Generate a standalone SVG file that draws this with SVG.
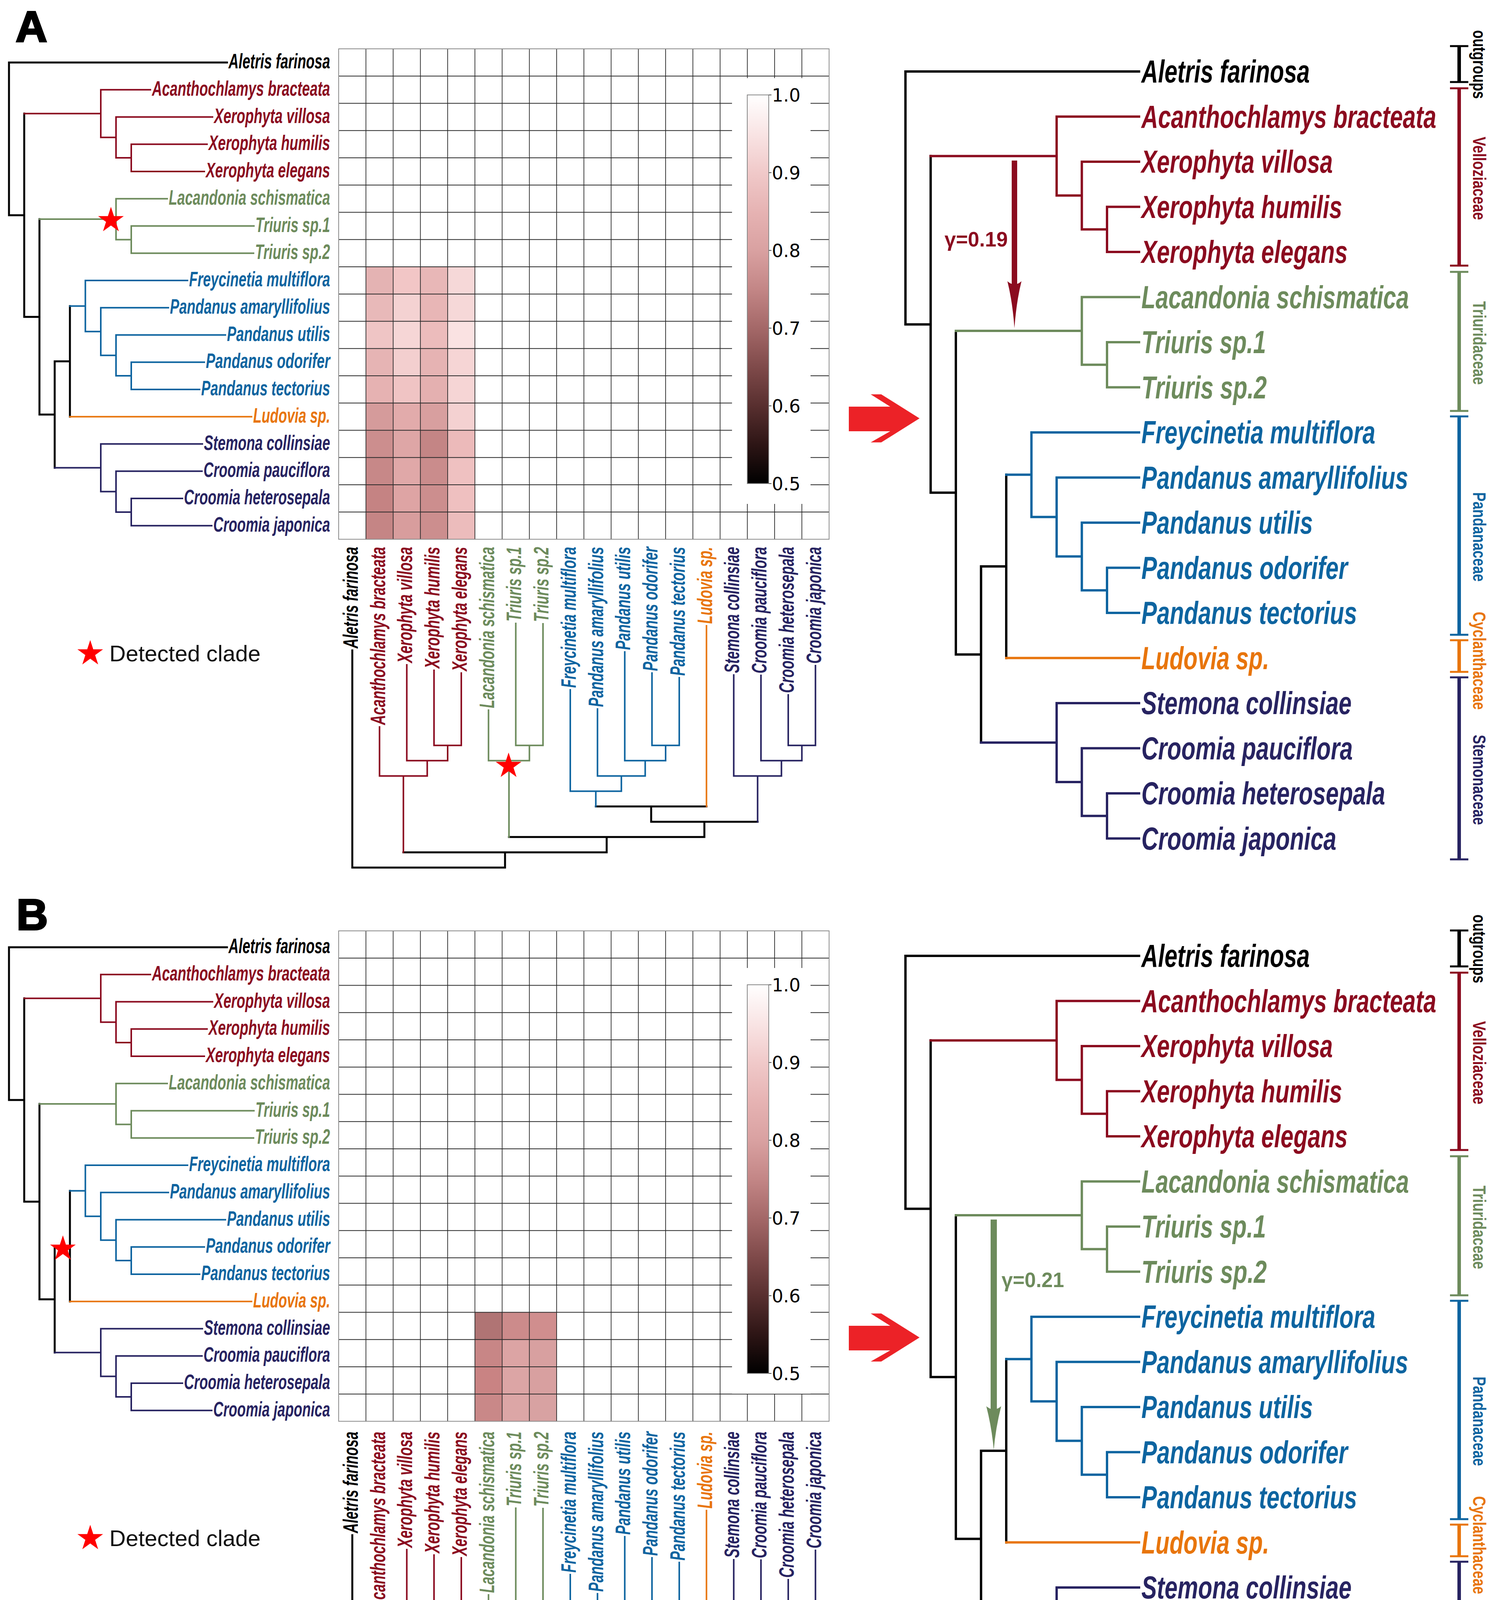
<svg xmlns="http://www.w3.org/2000/svg" width="3817" height="4510" viewBox="0 0 3817 4510">
<defs>
<style>
.t{font-family:'Liberation Sans',Arial,sans-serif;font-weight:bold;font-style:italic}
.ls{font-size:53px;text-anchor:end}
.rs{font-size:82px}
.fm{font-family:'Liberation Sans',Arial,sans-serif;font-weight:bold;font-size:47px}
.cbt{font-family:'DejaVu Sans',sans-serif;font-size:46px;fill:#000}
.pl{font-family:'Liberation Sans',Arial,sans-serif;font-weight:bold;font-size:112px;fill:#000;stroke:#000;stroke-width:4}
.leg{font-family:'Liberation Sans',Arial,sans-serif;font-size:58px;fill:#111}
.gm{font-family:'Liberation Sans',Arial,sans-serif;font-weight:bold;font-size:54px}
.fk{fill:#000}.fr{fill:#8b0b1f}.fg{fill:#6d8b5c}.fb{fill:#0d64a0}.fo{fill:#e8750c}.fn{fill:#272361}
.e{fill:none;stroke-linecap:square;stroke-linejoin:miter}
.k{stroke:#000}.r{stroke:#8b0b1f}.g{stroke:#6d8b5c}.b{stroke:#0d64a0}.o{stroke:#e8750c}.n{stroke:#272361}
.w4{stroke-width:4}.w5{stroke-width:5}.w6{stroke-width:6}
.grid{fill:none;stroke:#2a2a2a;stroke-width:1.8}
.gb{fill:none;stroke:#8a8a8a;stroke-width:2}
.bar{fill:none;stroke-width:9}
.cap{fill:none;stroke-width:5}
</style>
<linearGradient id="cbar" x1="0" y1="0" x2="0" y2="1">
<stop offset="0" stop-color="#ffffff"/>
<stop offset="0.1" stop-color="#f9e4e4"/>
<stop offset="0.2" stop-color="#f0c9c9"/>
<stop offset="0.3" stop-color="#e6b3b3"/>
<stop offset="0.4" stop-color="#d9a1a1"/>
<stop offset="0.5" stop-color="#c38686"/>
<stop offset="0.6" stop-color="#a46868"/>
<stop offset="0.7" stop-color="#7f4a4a"/>
<stop offset="0.8" stop-color="#582f2f"/>
<stop offset="0.9" stop-color="#2d1515"/>
<stop offset="1" stop-color="#000000"/>
</linearGradient>
<path id="star" fill="#ff0000" d="M0,-34.5L7.76,-10.68L32.81,-10.66L12.55,4.08L20.28,27.91L0,13.2L-20.28,27.91L-12.55,4.08L-32.81,-10.66L-7.76,-10.68Z"/>
</defs>
<rect x="0" y="0" width="3817" height="4510" fill="#ffffff"/>

<!-- ================= PANEL A ================= -->
<g id="panel-A">
<text id="A-title" class="pl" x="40" y="107">A</text>

<g id="A-heatmap">
<g id="A-cells">
<rect x="936.75" y="683" width="69.75" height="69.75" fill="#e4b3b3"/><rect x="1006.5" y="683" width="69.75" height="69.75" fill="#f2c6c6"/><rect x="1076.25" y="683" width="69.75" height="69.75" fill="#e8b7b7"/><rect x="1146" y="683" width="69.75" height="69.75" fill="#f6d8d8"/>
<rect x="936.75" y="752.75" width="69.75" height="69.75" fill="#e8b9b9"/><rect x="1006.5" y="752.75" width="69.75" height="69.75" fill="#f4d2d2"/><rect x="1076.25" y="752.75" width="69.75" height="69.75" fill="#e8b6b6"/><rect x="1146" y="752.75" width="69.75" height="69.75" fill="#f6d8d8"/>
<rect x="936.75" y="822.5" width="69.75" height="69.75" fill="#efc5c5"/><rect x="1006.5" y="822.5" width="69.75" height="69.75" fill="#f6d6d6"/><rect x="1076.25" y="822.5" width="69.75" height="69.75" fill="#ecbcbc"/><rect x="1146" y="822.5" width="69.75" height="69.75" fill="#fae2e2"/>
<rect x="936.75" y="892.25" width="69.75" height="69.75" fill="#e6b4b4"/><rect x="1006.5" y="892.25" width="69.75" height="69.75" fill="#f3cfcf"/><rect x="1076.25" y="892.25" width="69.75" height="69.75" fill="#e6b3b3"/><rect x="1146" y="892.25" width="69.75" height="69.75" fill="#f6d5d5"/>
<rect x="936.75" y="962" width="69.75" height="69.75" fill="#e6b2b2"/><rect x="1006.5" y="962" width="69.75" height="69.75" fill="#f0c4c4"/><rect x="1076.25" y="962" width="69.75" height="69.75" fill="#e4b0b0"/><rect x="1146" y="962" width="69.75" height="69.75" fill="#f6d5d5"/>
<rect x="936.75" y="1031.75" width="69.75" height="69.75" fill="#d59b9b"/><rect x="1006.5" y="1031.75" width="69.75" height="69.75" fill="#e2abab"/><rect x="1076.25" y="1031.75" width="69.75" height="69.75" fill="#d89f9f"/><rect x="1146" y="1031.75" width="69.75" height="69.75" fill="#f4d1d1"/>
<rect x="936.75" y="1101.5" width="69.75" height="69.75" fill="#cc8e8e"/><rect x="1006.5" y="1101.5" width="69.75" height="69.75" fill="#dea6a6"/><rect x="1076.25" y="1101.5" width="69.75" height="69.75" fill="#c48585"/><rect x="1146" y="1101.5" width="69.75" height="69.75" fill="#ecbaba"/>
<rect x="936.75" y="1171.25" width="69.75" height="69.75" fill="#c78888"/><rect x="1006.5" y="1171.25" width="69.75" height="69.75" fill="#e0a8a8"/><rect x="1076.25" y="1171.25" width="69.75" height="69.75" fill="#ca8c8c"/><rect x="1146" y="1171.25" width="69.75" height="69.75" fill="#efc1c1"/>
<rect x="936.75" y="1241" width="69.75" height="69.75" fill="#c58383"/><rect x="1006.5" y="1241" width="69.75" height="69.75" fill="#dea4a4"/><rect x="1076.25" y="1241" width="69.75" height="69.75" fill="#cc8e8e"/><rect x="1146" y="1241" width="69.75" height="69.75" fill="#efc0c0"/>
<rect x="936.75" y="1310.75" width="69.75" height="69.75" fill="#c58585"/><rect x="1006.5" y="1310.75" width="69.75" height="69.75" fill="#d89d9d"/><rect x="1076.25" y="1310.75" width="69.75" height="69.75" fill="#cc8e8e"/><rect x="1146" y="1310.75" width="69.75" height="69.75" fill="#ecbcbc"/>
</g>
<path class="grid" d="M936.75,125V1380.5M1006.5,125V1380.5M1076.25,125V1380.5M1146,125V1380.5M1215.75,125V1380.5M1285.5,125V1380.5M1355.25,125V1380.5M1425,125V1380.5M1494.75,125V1380.5M1564.5,125V1380.5M1634.25,125V1380.5M1704,125V1380.5M1773.75,125V1380.5M1843.5,125V1380.5M1913.25,125V1380.5M1983,125V1380.5M2052.75,125V1380.5M867,194.75H2122.5M867,264.5H2122.5M867,334.25H2122.5M867,404H2122.5M867,473.75H2122.5M867,543.5H2122.5M867,613.25H2122.5M867,683H2122.5M867,752.75H2122.5M867,822.5H2122.5M867,892.25H2122.5M867,962H2122.5M867,1031.75H2122.5M867,1101.5H2122.5M867,1171.25H2122.5M867,1241H2122.5M867,1310.75H2122.5"/>
<rect class="gb" x="867" y="125" width="1255.5" height="1255.5"/>
<g id="A-colorbar">
<rect x="1874" y="200" width="201" height="1090" fill="#ffffff"/>
<rect x="1913" y="243" width="55" height="995" fill="url(#cbar)" stroke="#8a8a8a" stroke-width="2"/>
<path fill="none" stroke="#555" stroke-width="2" d="M1968,243h7M1968,442h7M1968,641h7M1968,840h7M1968,1039h7M1968,1238h7"/>
<text class="cbt" x="1976" y="260">1.0</text>
<text class="cbt" x="1976" y="459">0.9</text>
<text class="cbt" x="1976" y="658">0.8</text>
<text class="cbt" x="1976" y="857">0.7</text>
<text class="cbt" x="1976" y="1056">0.6</text>
<text class="cbt" x="1976" y="1255">0.5</text>
</g>
</g>

<g id="A-connectors">
<g id="A-left-tree">
<path class="e k w5" d="M23,160H581M23,160V551H62M62,290.8V811.2M62,811.2H101M101,561.1V1061.3M101,1061.3H140M140,925.1V1197.6M140,925.1H179M179,783.4V1066.8"/>
<path class="e r w4" d="M62,290.8H258M258,229.8V351.8M258,229.8H385M258,351.8H297M297,299.5V404.1M297,299.5H544M297,404.1H336M336,369.3V439M336,369.3H530M336,439H523"/>
<path class="e g w4" d="M101,561.1H297M297,508.8V613.4M297,508.8H428M297,613.4H336M336,578.5V648.3M336,578.5H650M336,648.3H649"/>
<path class="e b w4" d="M179,783.4H218.5M218.5,718V848.8M218.5,718H480M218.5,848.8H258M258,787.8V909.8M258,787.8H431M258,909.8H297M297,857.5V962.1M297,857.5H577M297,962.1H336M336,927.3V997M336,927.3H523M336,997H511"/>
<path class="e o w4" d="M179,1066.8H644"/>
<path class="e n w4" d="M140,1197.6H258M258,1136.5V1258.6M258,1136.5H518M258,1258.6H297M297,1206.3V1310.9M297,1206.3H517M297,1310.9H336M336,1276V1345.8M336,1276H467M336,1345.8H542"/>
</g>
<g id="A-column-tree">
<path class="e k w5" d="M901.9,1665V2221H1292.9V2181.9M1032.7,2181.9H1553.1M1553.1,2181.9V2142.8M1303,2142.8H1803.2M1803.2,2142.8V2103.7M1667,2103.7H1939.5M1667,2103.7V2064.6M1525.3,2064.6H1808.6"/>
<path class="e r w4" d="M1032.7,2181.9V1986.4M971.6,1861V1986.4H1093.7M1093.7,1986.4V1947.3M1041.4,1702V1947.3H1146M1146,1947.3V1908.2M1111.1,1716V1908.2H1180.9V1723"/>
<path class="e g w4" d="M1303,2142.8V1947.3M1250.6,1818V1947.3H1355.3V1908.2M1320.4,1596V1908.2H1390.1V1597"/>
<path class="e b w4" d="M1525.3,2064.6V2025.5M1459.9,1766V2025.5H1590.7V1986.4M1529.6,1815V1986.4H1651.7V1947.3M1599.4,1669V1947.3H1704V1908.2M1669.1,1723V1908.2H1738.9V1735"/>
<path class="e o w4" d="M1808.6,1602V2064.6"/>
<path class="e n w4" d="M1939.5,2103.7V1986.4M1878.4,1728V1986.4H2000.5V1947.3M1948.1,1729V1947.3H2052.8V1908.2M2017.9,1779V1908.2H2087.6V1704"/>
</g>
<g id="A-right-tree">
<path class="e k w6" d="M2318,183H2916M2318,183V830.4H2382.5M2382.5,399.6V1261.3H2447M2447,847.1V1675.5H2511.5M2511.5,1449.9V1901.1M2511.5,1449.9H2576M2576,1215.3V1684.5"/>
<path class="e r w6" d="M2382.5,399.6H2705M2705,298.5V500.6M2705,298.5H2916M2705,500.6H2769.5M2769.5,414V587.3M2769.5,414H2916M2769.5,587.3H2834M2834,529.5V645M2834,529.5H2916M2834,645H2916"/>
<path class="e g w6" d="M2447,847.1H2769.5M2769.5,760.5V933.8M2769.5,760.5H2916M2769.5,933.8H2834M2834,876V991.5M2834,876H2916M2834,991.5H2916"/>
<path class="e b w6" d="M2576,1215.3H2640.5M2640.5,1107V1323.6M2640.5,1107H2916M2640.5,1323.6H2705M2705,1222.5V1424.6M2705,1222.5H2916M2705,1424.6H2769.5M2769.5,1338V1511.3M2769.5,1338H2916M2769.5,1511.3H2834M2834,1453.5V1569M2834,1453.5H2916M2834,1569H2916"/>
<path class="e o w6" d="M2576,1684.5H2916"/>
<path class="e n w6" d="M2511.5,1901.1H2705M2705,1800V2002.1M2705,1800H2916M2705,2002.1H2769.5M2769.5,1915.5V2088.8M2769.5,1915.5H2916M2769.5,2088.8H2834M2834,2031V2146.5M2834,2031H2916M2834,2146.5H2916"/>
</g>
<g id="A-gamma-arrow">
<rect x="2590" y="411" width="14" height="320" fill="#8b0b1f"/>
<path fill="#8b0b1f" d="M2579,720Q2592,772 2597,840Q2602,772 2615,720Q2597,736 2579,720Z"/>
</g>
<polygon id="A-big-arrow" fill="#ec2227" points="2173,1041 2279,1041 2229,1009.5 2256,1009.5 2354,1071 2256,1132.5 2229,1132.5 2279,1104 2173,1104"/>
</g>

<g id="A-stars">
<use href="#star" x="284" y="564"/>
<use href="#star" x="1302" y="1961"/>
<use href="#star" x="231" y="1673"/>
</g>
<text id="A-legend" class="leg" x="280" y="1693">Detected clade</text>
<text id="A-gamma" class="gm fr" x="2418" y="631" textLength="162" lengthAdjust="spacingAndGlyphs">γ=0.19</text>

<g id="A-left-taxa">
<g id="A-l0"><text class="t ls fk" x="845" y="175" textLength="260" lengthAdjust="spacingAndGlyphs">Aletris farinosa</text></g>
<g id="A-l1"><text class="t ls fr" x="845" y="244.8" textLength="456" lengthAdjust="spacingAndGlyphs">Acanthochlamys bracteata</text></g>
<g id="A-l2"><text class="t ls fr" x="845" y="314.5" textLength="297" lengthAdjust="spacingAndGlyphs">Xerophyta villosa</text></g>
<g id="A-l3"><text class="t ls fr" x="845" y="384.3" textLength="311" lengthAdjust="spacingAndGlyphs">Xerophyta humilis</text></g>
<g id="A-l4"><text class="t ls fr" x="845" y="454" textLength="318" lengthAdjust="spacingAndGlyphs">Xerophyta elegans</text></g>
<g id="A-l5"><text class="t ls fg" x="845" y="523.8" textLength="413" lengthAdjust="spacingAndGlyphs">Lacandonia schismatica</text></g>
<g id="A-l6"><text class="t ls fg" x="845" y="593.5" textLength="191" lengthAdjust="spacingAndGlyphs">Triuris sp.1</text></g>
<g id="A-l7"><text class="t ls fg" x="845" y="663.3" textLength="192" lengthAdjust="spacingAndGlyphs">Triuris sp.2</text></g>
<g id="A-l8"><text class="t ls fb" x="845" y="733" textLength="361" lengthAdjust="spacingAndGlyphs">Freycinetia multiflora</text></g>
<g id="A-l9"><text class="t ls fb" x="845" y="802.8" textLength="410" lengthAdjust="spacingAndGlyphs">Pandanus amaryllifolius</text></g>
<g id="A-l10"><text class="t ls fb" x="845" y="872.5" textLength="264" lengthAdjust="spacingAndGlyphs">Pandanus utilis</text></g>
<g id="A-l11"><text class="t ls fb" x="845" y="942.3" textLength="318" lengthAdjust="spacingAndGlyphs">Pandanus odorifer</text></g>
<g id="A-l12"><text class="t ls fb" x="845" y="1012" textLength="330" lengthAdjust="spacingAndGlyphs">Pandanus tectorius</text></g>
<g id="A-l13"><text class="t ls fo" x="845" y="1081.8" textLength="197" lengthAdjust="spacingAndGlyphs">Ludovia sp.</text></g>
<g id="A-l14"><text class="t ls fn" x="845" y="1151.5" textLength="323" lengthAdjust="spacingAndGlyphs">Stemona collinsiae</text></g>
<g id="A-l15"><text class="t ls fn" x="845" y="1221.3" textLength="324" lengthAdjust="spacingAndGlyphs">Croomia pauciflora</text></g>
<g id="A-l16"><text class="t ls fn" x="845" y="1291" textLength="374" lengthAdjust="spacingAndGlyphs">Croomia heterosepala</text></g>
<g id="A-l17"><text class="t ls fn" x="845" y="1360.8" textLength="299" lengthAdjust="spacingAndGlyphs">Croomia japonica</text></g>
</g>

<g id="A-column-taxa">
<g id="A-c0"><text class="t ls fk" transform="translate(915.9,1400) rotate(-90)" textLength="260" lengthAdjust="spacingAndGlyphs">Aletris farinosa</text></g>
<g id="A-c1"><text class="t ls fr" transform="translate(985.6,1400) rotate(-90)" textLength="456" lengthAdjust="spacingAndGlyphs">Acanthochlamys bracteata</text></g>
<g id="A-c2"><text class="t ls fr" transform="translate(1055.4,1400) rotate(-90)" textLength="297" lengthAdjust="spacingAndGlyphs">Xerophyta villosa</text></g>
<g id="A-c3"><text class="t ls fr" transform="translate(1125.1,1400) rotate(-90)" textLength="311" lengthAdjust="spacingAndGlyphs">Xerophyta humilis</text></g>
<g id="A-c4"><text class="t ls fr" transform="translate(1194.9,1400) rotate(-90)" textLength="318" lengthAdjust="spacingAndGlyphs">Xerophyta elegans</text></g>
<g id="A-c5"><text class="t ls fg" transform="translate(1264.6,1400) rotate(-90)" textLength="413" lengthAdjust="spacingAndGlyphs">Lacandonia schismatica</text></g>
<g id="A-c6"><text class="t ls fg" transform="translate(1334.4,1400) rotate(-90)" textLength="191" lengthAdjust="spacingAndGlyphs">Triuris sp.1</text></g>
<g id="A-c7"><text class="t ls fg" transform="translate(1404.1,1400) rotate(-90)" textLength="192" lengthAdjust="spacingAndGlyphs">Triuris sp.2</text></g>
<g id="A-c8"><text class="t ls fb" transform="translate(1473.9,1400) rotate(-90)" textLength="361" lengthAdjust="spacingAndGlyphs">Freycinetia multiflora</text></g>
<g id="A-c9"><text class="t ls fb" transform="translate(1543.6,1400) rotate(-90)" textLength="410" lengthAdjust="spacingAndGlyphs">Pandanus amaryllifolius</text></g>
<g id="A-c10"><text class="t ls fb" transform="translate(1613.4,1400) rotate(-90)" textLength="264" lengthAdjust="spacingAndGlyphs">Pandanus utilis</text></g>
<g id="A-c11"><text class="t ls fb" transform="translate(1683.1,1400) rotate(-90)" textLength="318" lengthAdjust="spacingAndGlyphs">Pandanus odorifer</text></g>
<g id="A-c12"><text class="t ls fb" transform="translate(1752.9,1400) rotate(-90)" textLength="330" lengthAdjust="spacingAndGlyphs">Pandanus tectorius</text></g>
<g id="A-c13"><text class="t ls fo" transform="translate(1822.6,1400) rotate(-90)" textLength="197" lengthAdjust="spacingAndGlyphs">Ludovia sp.</text></g>
<g id="A-c14"><text class="t ls fn" transform="translate(1892.4,1400) rotate(-90)" textLength="323" lengthAdjust="spacingAndGlyphs">Stemona collinsiae</text></g>
<g id="A-c15"><text class="t ls fn" transform="translate(1962.1,1400) rotate(-90)" textLength="324" lengthAdjust="spacingAndGlyphs">Croomia pauciflora</text></g>
<g id="A-c16"><text class="t ls fn" transform="translate(2031.9,1400) rotate(-90)" textLength="374" lengthAdjust="spacingAndGlyphs">Croomia heterosepala</text></g>
<g id="A-c17"><text class="t ls fn" transform="translate(2101.6,1400) rotate(-90)" textLength="299" lengthAdjust="spacingAndGlyphs">Croomia japonica</text></g>
</g>

<g id="A-right-taxa">
<g id="A-r0"><text class="t rs fk" transform="translate(2922,211) scale(0.72,1)" textLength="598.6" lengthAdjust="spacingAndGlyphs">Aletris farinosa</text></g>
<g id="A-r1"><text class="t rs fr" transform="translate(2922,326.5) scale(0.72,1)" textLength="1048.6" lengthAdjust="spacingAndGlyphs">Acanthochlamys bracteata</text></g>
<g id="A-r2"><text class="t rs fr" transform="translate(2922,442) scale(0.72,1)" textLength="680.6" lengthAdjust="spacingAndGlyphs">Xerophyta villosa</text></g>
<g id="A-r3"><text class="t rs fr" transform="translate(2922,557.5) scale(0.72,1)" textLength="713.9" lengthAdjust="spacingAndGlyphs">Xerophyta humilis</text></g>
<g id="A-r4"><text class="t rs fr" transform="translate(2922,673) scale(0.72,1)" textLength="733.3" lengthAdjust="spacingAndGlyphs">Xerophyta elegans</text></g>
<g id="A-r5"><text class="t rs fg" transform="translate(2922,788.5) scale(0.72,1)" textLength="951.4" lengthAdjust="spacingAndGlyphs">Lacandonia schismatica</text></g>
<g id="A-r6"><text class="t rs fg" transform="translate(2922,904) scale(0.72,1)" textLength="443.1" lengthAdjust="spacingAndGlyphs">Triuris sp.1</text></g>
<g id="A-r7"><text class="t rs fg" transform="translate(2922,1019.5) scale(0.72,1)" textLength="445.8" lengthAdjust="spacingAndGlyphs">Triuris sp.2</text></g>
<g id="A-r8"><text class="t rs fb" transform="translate(2922,1135) scale(0.72,1)" textLength="831.9" lengthAdjust="spacingAndGlyphs">Freycinetia multiflora</text></g>
<g id="A-r9"><text class="t rs fb" transform="translate(2922,1250.5) scale(0.72,1)" textLength="948.6" lengthAdjust="spacingAndGlyphs">Pandanus amaryllifolius</text></g>
<g id="A-r10"><text class="t rs fb" transform="translate(2922,1366) scale(0.72,1)" textLength="609.7" lengthAdjust="spacingAndGlyphs">Pandanus utilis</text></g>
<g id="A-r11"><text class="t rs fb" transform="translate(2922,1481.5) scale(0.72,1)" textLength="733.3" lengthAdjust="spacingAndGlyphs">Pandanus odorifer</text></g>
<g id="A-r12"><text class="t rs fb" transform="translate(2922,1597) scale(0.72,1)" textLength="766.7" lengthAdjust="spacingAndGlyphs">Pandanus tectorius</text></g>
<g id="A-r13"><text class="t rs fo" transform="translate(2922,1712.5) scale(0.72,1)" textLength="454.2" lengthAdjust="spacingAndGlyphs">Ludovia sp.</text></g>
<g id="A-r14"><text class="t rs fn" transform="translate(2922,1828) scale(0.72,1)" textLength="747.2" lengthAdjust="spacingAndGlyphs">Stemona collinsiae</text></g>
<g id="A-r15"><text class="t rs fn" transform="translate(2922,1943.5) scale(0.72,1)" textLength="751.4" lengthAdjust="spacingAndGlyphs">Croomia pauciflora</text></g>
<g id="A-r16"><text class="t rs fn" transform="translate(2922,2059) scale(0.72,1)" textLength="866.7" lengthAdjust="spacingAndGlyphs">Croomia heterosepala</text></g>
<g id="A-r17"><text class="t rs fn" transform="translate(2922,2174.5) scale(0.72,1)" textLength="693.1" lengthAdjust="spacingAndGlyphs">Croomia japonica</text></g>
</g>

<g id="A-families">
<path class="bar k" d="M3735.5,118V210"/><path class="cap k" d="M3712,118H3759M3712,210H3759"/>
<path class="bar r" d="M3735.5,226V680"/><path class="cap r" d="M3712,226H3759M3712,680H3759"/>
<path class="bar g" d="M3735.5,696V1052"/><path class="cap g" d="M3712,696H3759M3712,1052H3759"/>
<path class="bar b" d="M3735.5,1066V1625"/><path class="cap b" d="M3712,1066H3759M3712,1625H3759"/>
<path class="bar o" d="M3735.5,1639V1720"/><path class="cap o" d="M3712,1639H3759M3712,1720H3759"/>
<path class="bar n" d="M3735.5,1734V2200"/><path class="cap n" d="M3712,1734H3759M3712,2200H3759"/>
<text class="fm fk" transform="translate(3771,77) rotate(90)" textLength="176" lengthAdjust="spacingAndGlyphs">outgroups</text>
<text class="fm fr" transform="translate(3771,350) rotate(90)" textLength="213" lengthAdjust="spacingAndGlyphs">Velloziaceae</text>
<text class="fm fg" transform="translate(3771,771) rotate(90)" textLength="214" lengthAdjust="spacingAndGlyphs">Triuridaceae</text>
<text class="fm fb" transform="translate(3771,1260) rotate(90)" textLength="229" lengthAdjust="spacingAndGlyphs">Pandanaceae</text>
<text class="fm fo" transform="translate(3771,1566) rotate(90)" textLength="251" lengthAdjust="spacingAndGlyphs">Cyclanthaceae</text>
<text class="fm fn" transform="translate(3771,1881) rotate(90)" textLength="231" lengthAdjust="spacingAndGlyphs">Stemonaceae</text>
</g>
</g>

<!-- ================= PANEL B ================= -->
<g id="panel-B">
<text id="B-title" class="pl" x="42" y="2380">B</text>

<g id="B-heatmap">
<g transform="translate(0,2258)">
<g id="B-cells">
<rect x="1215.75" y="1101.5" width="69.75" height="69.75" fill="#b07474"/><rect x="1285.5" y="1101.5" width="69.75" height="69.75" fill="#cc8b8b"/><rect x="1355.25" y="1101.5" width="69.75" height="69.75" fill="#d08e8e"/>
<rect x="1215.75" y="1171.25" width="69.75" height="69.75" fill="#c88686"/><rect x="1285.5" y="1171.25" width="69.75" height="69.75" fill="#dca4a4"/><rect x="1355.25" y="1171.25" width="69.75" height="69.75" fill="#d8a0a0"/>
<rect x="1215.75" y="1241" width="69.75" height="69.75" fill="#c98383"/><rect x="1285.5" y="1241" width="69.75" height="69.75" fill="#dca5a5"/><rect x="1355.25" y="1241" width="69.75" height="69.75" fill="#d8a0a0"/>
<rect x="1215.75" y="1310.75" width="69.75" height="69.75" fill="#c98888"/><rect x="1285.5" y="1310.75" width="69.75" height="69.75" fill="#dca6a6"/><rect x="1355.25" y="1310.75" width="69.75" height="69.75" fill="#d8a2a2"/>
</g>
<path class="grid" d="M936.75,125V1380.5M1006.5,125V1380.5M1076.25,125V1380.5M1146,125V1380.5M1215.75,125V1380.5M1285.5,125V1380.5M1355.25,125V1380.5M1425,125V1380.5M1494.75,125V1380.5M1564.5,125V1380.5M1634.25,125V1380.5M1704,125V1380.5M1773.75,125V1380.5M1843.5,125V1380.5M1913.25,125V1380.5M1983,125V1380.5M2052.75,125V1380.5M867,194.75H2122.5M867,264.5H2122.5M867,334.25H2122.5M867,404H2122.5M867,473.75H2122.5M867,543.5H2122.5M867,613.25H2122.5M867,683H2122.5M867,752.75H2122.5M867,822.5H2122.5M867,892.25H2122.5M867,962H2122.5M867,1031.75H2122.5M867,1101.5H2122.5M867,1171.25H2122.5M867,1241H2122.5M867,1310.75H2122.5"/>
<rect class="gb" x="867" y="125" width="1255.5" height="1255.5"/>
</g>
<g id="B-colorbar" transform="translate(0,2278)">
<rect x="1874" y="200" width="201" height="1090" fill="#ffffff"/>
<rect x="1913" y="243" width="55" height="995" fill="url(#cbar)" stroke="#8a8a8a" stroke-width="2"/>
<path fill="none" stroke="#555" stroke-width="2" d="M1968,243h7M1968,442h7M1968,641h7M1968,840h7M1968,1039h7M1968,1238h7"/>
<text class="cbt" x="1976" y="260">1.0</text>
<text class="cbt" x="1976" y="459">0.9</text>
<text class="cbt" x="1976" y="658">0.8</text>
<text class="cbt" x="1976" y="857">0.7</text>
<text class="cbt" x="1976" y="1056">0.6</text>
<text class="cbt" x="1976" y="1255">0.5</text>
</g>
</g>

<g id="B-connectors">
<g id="B-left-tree" transform="translate(0,2265)">
<path class="e k w5" d="M23,160H581M23,160V551H62M62,290.8V811.2M62,811.2H101M101,561.1V1061.3M101,1061.3H140M140,925.1V1197.6M140,925.1H179M179,783.4V1066.8"/>
<path class="e r w4" d="M62,290.8H258M258,229.8V351.8M258,229.8H385M258,351.8H297M297,299.5V404.1M297,299.5H544M297,404.1H336M336,369.3V439M336,369.3H530M336,439H523"/>
<path class="e g w4" d="M101,561.1H297M297,508.8V613.4M297,508.8H428M297,613.4H336M336,578.5V648.3M336,578.5H650M336,648.3H649"/>
<path class="e b w4" d="M179,783.4H218.5M218.5,718V848.8M218.5,718H480M218.5,848.8H258M258,787.8V909.8M258,787.8H431M258,909.8H297M297,857.5V962.1M297,857.5H577M297,962.1H336M336,927.3V997M336,927.3H523M336,997H511"/>
<path class="e o w4" d="M179,1066.8H644"/>
<path class="e n w4" d="M140,1197.6H258M258,1136.5V1258.6M258,1136.5H518M258,1258.6H297M297,1206.3V1310.9M297,1206.3H517M297,1310.9H336M336,1276V1345.8M336,1276H467M336,1345.8H542"/>
</g>
<g id="B-column-tree" transform="translate(0,2265)">
<path class="e k w5" d="M901.9,1665V2221H1292.9V2181.9M1032.7,2181.9H1553.1M1553.1,2181.9V2142.8M1303,2142.8H1803.2M1803.2,2142.8V2103.7M1667,2103.7H1939.5M1667,2103.7V2064.6M1525.3,2064.6H1808.6"/>
<path class="e r w4" d="M1032.7,2181.9V1986.4M971.6,1861V1986.4H1093.7M1093.7,1986.4V1947.3M1041.4,1702V1947.3H1146M1146,1947.3V1908.2M1111.1,1716V1908.2H1180.9V1723"/>
<path class="e g w4" d="M1303,2142.8V1947.3M1250.6,1818V1947.3H1355.3V1908.2M1320.4,1596V1908.2H1390.1V1597"/>
<path class="e b w4" d="M1525.3,2064.6V2025.5M1459.9,1766V2025.5H1590.7V1986.4M1529.6,1815V1986.4H1651.7V1947.3M1599.4,1669V1947.3H1704V1908.2M1669.1,1723V1908.2H1738.9V1735"/>
<path class="e o w4" d="M1808.6,1602V2064.6"/>
<path class="e n w4" d="M1939.5,2103.7V1986.4M1878.4,1728V1986.4H2000.5V1947.3M1948.1,1729V1947.3H2052.8V1908.2M2017.9,1779V1908.2H2087.6V1704"/>
</g>
<g id="B-right-tree" transform="translate(0,2264)">
<path class="e k w6" d="M2318,183H2916M2318,183V830.4H2382.5M2382.5,399.6V1261.3H2447M2447,847.1V1675.5H2511.5M2511.5,1449.9V1901.1M2511.5,1449.9H2576M2576,1215.3V1684.5"/>
<path class="e r w6" d="M2382.5,399.6H2705M2705,298.5V500.6M2705,298.5H2916M2705,500.6H2769.5M2769.5,414V587.3M2769.5,414H2916M2769.5,587.3H2834M2834,529.5V645M2834,529.5H2916M2834,645H2916"/>
<path class="e g w6" d="M2447,847.1H2769.5M2769.5,760.5V933.8M2769.5,760.5H2916M2769.5,933.8H2834M2834,876V991.5M2834,876H2916M2834,991.5H2916"/>
<path class="e b w6" d="M2576,1215.3H2640.5M2640.5,1107V1323.6M2640.5,1107H2916M2640.5,1323.6H2705M2705,1222.5V1424.6M2705,1222.5H2916M2705,1424.6H2769.5M2769.5,1338V1511.3M2769.5,1338H2916M2769.5,1511.3H2834M2834,1453.5V1569M2834,1453.5H2916M2834,1569H2916"/>
<path class="e o w6" d="M2576,1684.5H2916"/>
<path class="e n w6" d="M2511.5,1901.1H2705M2705,1800V2002.1M2705,1800H2916M2705,2002.1H2769.5M2769.5,1915.5V2088.8M2769.5,1915.5H2916M2769.5,2088.8H2834M2834,2031V2146.5M2834,2031H2916M2834,2146.5H2916"/>
</g>
<g id="B-gamma-arrow">
<rect x="2536" y="3122" width="16" height="490" fill="#6d8b5c"/>
<path fill="#6d8b5c" d="M2525,3600Q2539,3655 2544,3712Q2549,3655 2563,3600Q2544,3616 2525,3600Z"/>
</g>
<polygon id="B-big-arrow" fill="#ec2227" points="2173,3394 2279,3394 2229,3362.5 2256,3362.5 2354,3424 2256,3485.5 2229,3485.5 2279,3457 2173,3457"/>
</g>

<g id="B-stars">
<use href="#star" x="161" y="3197"/>
<use href="#star" x="1526" y="4312"/>
<use href="#star" x="231" y="3938"/>
</g>
<text id="B-legend" class="leg" x="280" y="3958">Detected clade</text>
<text id="B-gamma" class="gm fg" x="2564" y="3295" textLength="160" lengthAdjust="spacingAndGlyphs">γ=0.21</text>

<g id="B-left-taxa" transform="translate(0,2265)">
<g id="B-l0"><text class="t ls fk" x="845" y="175" textLength="260" lengthAdjust="spacingAndGlyphs">Aletris farinosa</text></g>
<g id="B-l1"><text class="t ls fr" x="845" y="244.8" textLength="456" lengthAdjust="spacingAndGlyphs">Acanthochlamys bracteata</text></g>
<g id="B-l2"><text class="t ls fr" x="845" y="314.5" textLength="297" lengthAdjust="spacingAndGlyphs">Xerophyta villosa</text></g>
<g id="B-l3"><text class="t ls fr" x="845" y="384.3" textLength="311" lengthAdjust="spacingAndGlyphs">Xerophyta humilis</text></g>
<g id="B-l4"><text class="t ls fr" x="845" y="454" textLength="318" lengthAdjust="spacingAndGlyphs">Xerophyta elegans</text></g>
<g id="B-l5"><text class="t ls fg" x="845" y="523.8" textLength="413" lengthAdjust="spacingAndGlyphs">Lacandonia schismatica</text></g>
<g id="B-l6"><text class="t ls fg" x="845" y="593.5" textLength="191" lengthAdjust="spacingAndGlyphs">Triuris sp.1</text></g>
<g id="B-l7"><text class="t ls fg" x="845" y="663.3" textLength="192" lengthAdjust="spacingAndGlyphs">Triuris sp.2</text></g>
<g id="B-l8"><text class="t ls fb" x="845" y="733" textLength="361" lengthAdjust="spacingAndGlyphs">Freycinetia multiflora</text></g>
<g id="B-l9"><text class="t ls fb" x="845" y="802.8" textLength="410" lengthAdjust="spacingAndGlyphs">Pandanus amaryllifolius</text></g>
<g id="B-l10"><text class="t ls fb" x="845" y="872.5" textLength="264" lengthAdjust="spacingAndGlyphs">Pandanus utilis</text></g>
<g id="B-l11"><text class="t ls fb" x="845" y="942.3" textLength="318" lengthAdjust="spacingAndGlyphs">Pandanus odorifer</text></g>
<g id="B-l12"><text class="t ls fb" x="845" y="1012" textLength="330" lengthAdjust="spacingAndGlyphs">Pandanus tectorius</text></g>
<g id="B-l13"><text class="t ls fo" x="845" y="1081.8" textLength="197" lengthAdjust="spacingAndGlyphs">Ludovia sp.</text></g>
<g id="B-l14"><text class="t ls fn" x="845" y="1151.5" textLength="323" lengthAdjust="spacingAndGlyphs">Stemona collinsiae</text></g>
<g id="B-l15"><text class="t ls fn" x="845" y="1221.3" textLength="324" lengthAdjust="spacingAndGlyphs">Croomia pauciflora</text></g>
<g id="B-l16"><text class="t ls fn" x="845" y="1291" textLength="374" lengthAdjust="spacingAndGlyphs">Croomia heterosepala</text></g>
<g id="B-l17"><text class="t ls fn" x="845" y="1360.8" textLength="299" lengthAdjust="spacingAndGlyphs">Croomia japonica</text></g>
</g>

<g id="B-column-taxa" transform="translate(0,2265)">
<g id="B-c0"><text class="t ls fk" transform="translate(915.9,1400) rotate(-90)" textLength="260" lengthAdjust="spacingAndGlyphs">Aletris farinosa</text></g>
<g id="B-c1"><text class="t ls fr" transform="translate(985.6,1400) rotate(-90)" textLength="456" lengthAdjust="spacingAndGlyphs">Acanthochlamys bracteata</text></g>
<g id="B-c2"><text class="t ls fr" transform="translate(1055.4,1400) rotate(-90)" textLength="297" lengthAdjust="spacingAndGlyphs">Xerophyta villosa</text></g>
<g id="B-c3"><text class="t ls fr" transform="translate(1125.1,1400) rotate(-90)" textLength="311" lengthAdjust="spacingAndGlyphs">Xerophyta humilis</text></g>
<g id="B-c4"><text class="t ls fr" transform="translate(1194.9,1400) rotate(-90)" textLength="318" lengthAdjust="spacingAndGlyphs">Xerophyta elegans</text></g>
<g id="B-c5"><text class="t ls fg" transform="translate(1264.6,1400) rotate(-90)" textLength="413" lengthAdjust="spacingAndGlyphs">Lacandonia schismatica</text></g>
<g id="B-c6"><text class="t ls fg" transform="translate(1334.4,1400) rotate(-90)" textLength="191" lengthAdjust="spacingAndGlyphs">Triuris sp.1</text></g>
<g id="B-c7"><text class="t ls fg" transform="translate(1404.1,1400) rotate(-90)" textLength="192" lengthAdjust="spacingAndGlyphs">Triuris sp.2</text></g>
<g id="B-c8"><text class="t ls fb" transform="translate(1473.9,1400) rotate(-90)" textLength="361" lengthAdjust="spacingAndGlyphs">Freycinetia multiflora</text></g>
<g id="B-c9"><text class="t ls fb" transform="translate(1543.6,1400) rotate(-90)" textLength="410" lengthAdjust="spacingAndGlyphs">Pandanus amaryllifolius</text></g>
<g id="B-c10"><text class="t ls fb" transform="translate(1613.4,1400) rotate(-90)" textLength="264" lengthAdjust="spacingAndGlyphs">Pandanus utilis</text></g>
<g id="B-c11"><text class="t ls fb" transform="translate(1683.1,1400) rotate(-90)" textLength="318" lengthAdjust="spacingAndGlyphs">Pandanus odorifer</text></g>
<g id="B-c12"><text class="t ls fb" transform="translate(1752.9,1400) rotate(-90)" textLength="330" lengthAdjust="spacingAndGlyphs">Pandanus tectorius</text></g>
<g id="B-c13"><text class="t ls fo" transform="translate(1822.6,1400) rotate(-90)" textLength="197" lengthAdjust="spacingAndGlyphs">Ludovia sp.</text></g>
<g id="B-c14"><text class="t ls fn" transform="translate(1892.4,1400) rotate(-90)" textLength="323" lengthAdjust="spacingAndGlyphs">Stemona collinsiae</text></g>
<g id="B-c15"><text class="t ls fn" transform="translate(1962.1,1400) rotate(-90)" textLength="324" lengthAdjust="spacingAndGlyphs">Croomia pauciflora</text></g>
<g id="B-c16"><text class="t ls fn" transform="translate(2031.9,1400) rotate(-90)" textLength="374" lengthAdjust="spacingAndGlyphs">Croomia heterosepala</text></g>
<g id="B-c17"><text class="t ls fn" transform="translate(2101.6,1400) rotate(-90)" textLength="299" lengthAdjust="spacingAndGlyphs">Croomia japonica</text></g>
</g>

<g id="B-right-taxa" transform="translate(0,2264)">
<g id="B-r0"><text class="t rs fk" transform="translate(2922,211) scale(0.72,1)" textLength="598.6" lengthAdjust="spacingAndGlyphs">Aletris farinosa</text></g>
<g id="B-r1"><text class="t rs fr" transform="translate(2922,326.5) scale(0.72,1)" textLength="1048.6" lengthAdjust="spacingAndGlyphs">Acanthochlamys bracteata</text></g>
<g id="B-r2"><text class="t rs fr" transform="translate(2922,442) scale(0.72,1)" textLength="680.6" lengthAdjust="spacingAndGlyphs">Xerophyta villosa</text></g>
<g id="B-r3"><text class="t rs fr" transform="translate(2922,557.5) scale(0.72,1)" textLength="713.9" lengthAdjust="spacingAndGlyphs">Xerophyta humilis</text></g>
<g id="B-r4"><text class="t rs fr" transform="translate(2922,673) scale(0.72,1)" textLength="733.3" lengthAdjust="spacingAndGlyphs">Xerophyta elegans</text></g>
<g id="B-r5"><text class="t rs fg" transform="translate(2922,788.5) scale(0.72,1)" textLength="951.4" lengthAdjust="spacingAndGlyphs">Lacandonia schismatica</text></g>
<g id="B-r6"><text class="t rs fg" transform="translate(2922,904) scale(0.72,1)" textLength="443.1" lengthAdjust="spacingAndGlyphs">Triuris sp.1</text></g>
<g id="B-r7"><text class="t rs fg" transform="translate(2922,1019.5) scale(0.72,1)" textLength="445.8" lengthAdjust="spacingAndGlyphs">Triuris sp.2</text></g>
<g id="B-r8"><text class="t rs fb" transform="translate(2922,1135) scale(0.72,1)" textLength="831.9" lengthAdjust="spacingAndGlyphs">Freycinetia multiflora</text></g>
<g id="B-r9"><text class="t rs fb" transform="translate(2922,1250.5) scale(0.72,1)" textLength="948.6" lengthAdjust="spacingAndGlyphs">Pandanus amaryllifolius</text></g>
<g id="B-r10"><text class="t rs fb" transform="translate(2922,1366) scale(0.72,1)" textLength="609.7" lengthAdjust="spacingAndGlyphs">Pandanus utilis</text></g>
<g id="B-r11"><text class="t rs fb" transform="translate(2922,1481.5) scale(0.72,1)" textLength="733.3" lengthAdjust="spacingAndGlyphs">Pandanus odorifer</text></g>
<g id="B-r12"><text class="t rs fb" transform="translate(2922,1597) scale(0.72,1)" textLength="766.7" lengthAdjust="spacingAndGlyphs">Pandanus tectorius</text></g>
<g id="B-r13"><text class="t rs fo" transform="translate(2922,1712.5) scale(0.72,1)" textLength="454.2" lengthAdjust="spacingAndGlyphs">Ludovia sp.</text></g>
<g id="B-r14"><text class="t rs fn" transform="translate(2922,1828) scale(0.72,1)" textLength="747.2" lengthAdjust="spacingAndGlyphs">Stemona collinsiae</text></g>
<g id="B-r15"><text class="t rs fn" transform="translate(2922,1943.5) scale(0.72,1)" textLength="751.4" lengthAdjust="spacingAndGlyphs">Croomia pauciflora</text></g>
<g id="B-r16"><text class="t rs fn" transform="translate(2922,2059) scale(0.72,1)" textLength="866.7" lengthAdjust="spacingAndGlyphs">Croomia heterosepala</text></g>
<g id="B-r17"><text class="t rs fn" transform="translate(2922,2174.5) scale(0.72,1)" textLength="693.1" lengthAdjust="spacingAndGlyphs">Croomia japonica</text></g>
</g>

<g id="B-families" transform="translate(0,2264)">
<path class="bar k" d="M3735.5,118V210"/><path class="cap k" d="M3712,118H3759M3712,210H3759"/>
<path class="bar r" d="M3735.5,226V680"/><path class="cap r" d="M3712,226H3759M3712,680H3759"/>
<path class="bar g" d="M3735.5,696V1052"/><path class="cap g" d="M3712,696H3759M3712,1052H3759"/>
<path class="bar b" d="M3735.5,1066V1625"/><path class="cap b" d="M3712,1066H3759M3712,1625H3759"/>
<path class="bar o" d="M3735.5,1639V1720"/><path class="cap o" d="M3712,1639H3759M3712,1720H3759"/>
<path class="bar n" d="M3735.5,1734V2200"/><path class="cap n" d="M3712,1734H3759M3712,2200H3759"/>
<text class="fm fk" transform="translate(3771,77) rotate(90)" textLength="176" lengthAdjust="spacingAndGlyphs">outgroups</text>
<text class="fm fr" transform="translate(3771,350) rotate(90)" textLength="213" lengthAdjust="spacingAndGlyphs">Velloziaceae</text>
<text class="fm fg" transform="translate(3771,771) rotate(90)" textLength="214" lengthAdjust="spacingAndGlyphs">Triuridaceae</text>
<text class="fm fb" transform="translate(3771,1260) rotate(90)" textLength="229" lengthAdjust="spacingAndGlyphs">Pandanaceae</text>
<text class="fm fo" transform="translate(3771,1566) rotate(90)" textLength="251" lengthAdjust="spacingAndGlyphs">Cyclanthaceae</text>
<text class="fm fn" transform="translate(3771,1881) rotate(90)" textLength="231" lengthAdjust="spacingAndGlyphs">Stemonaceae</text>
</g>
</g>
</svg>
